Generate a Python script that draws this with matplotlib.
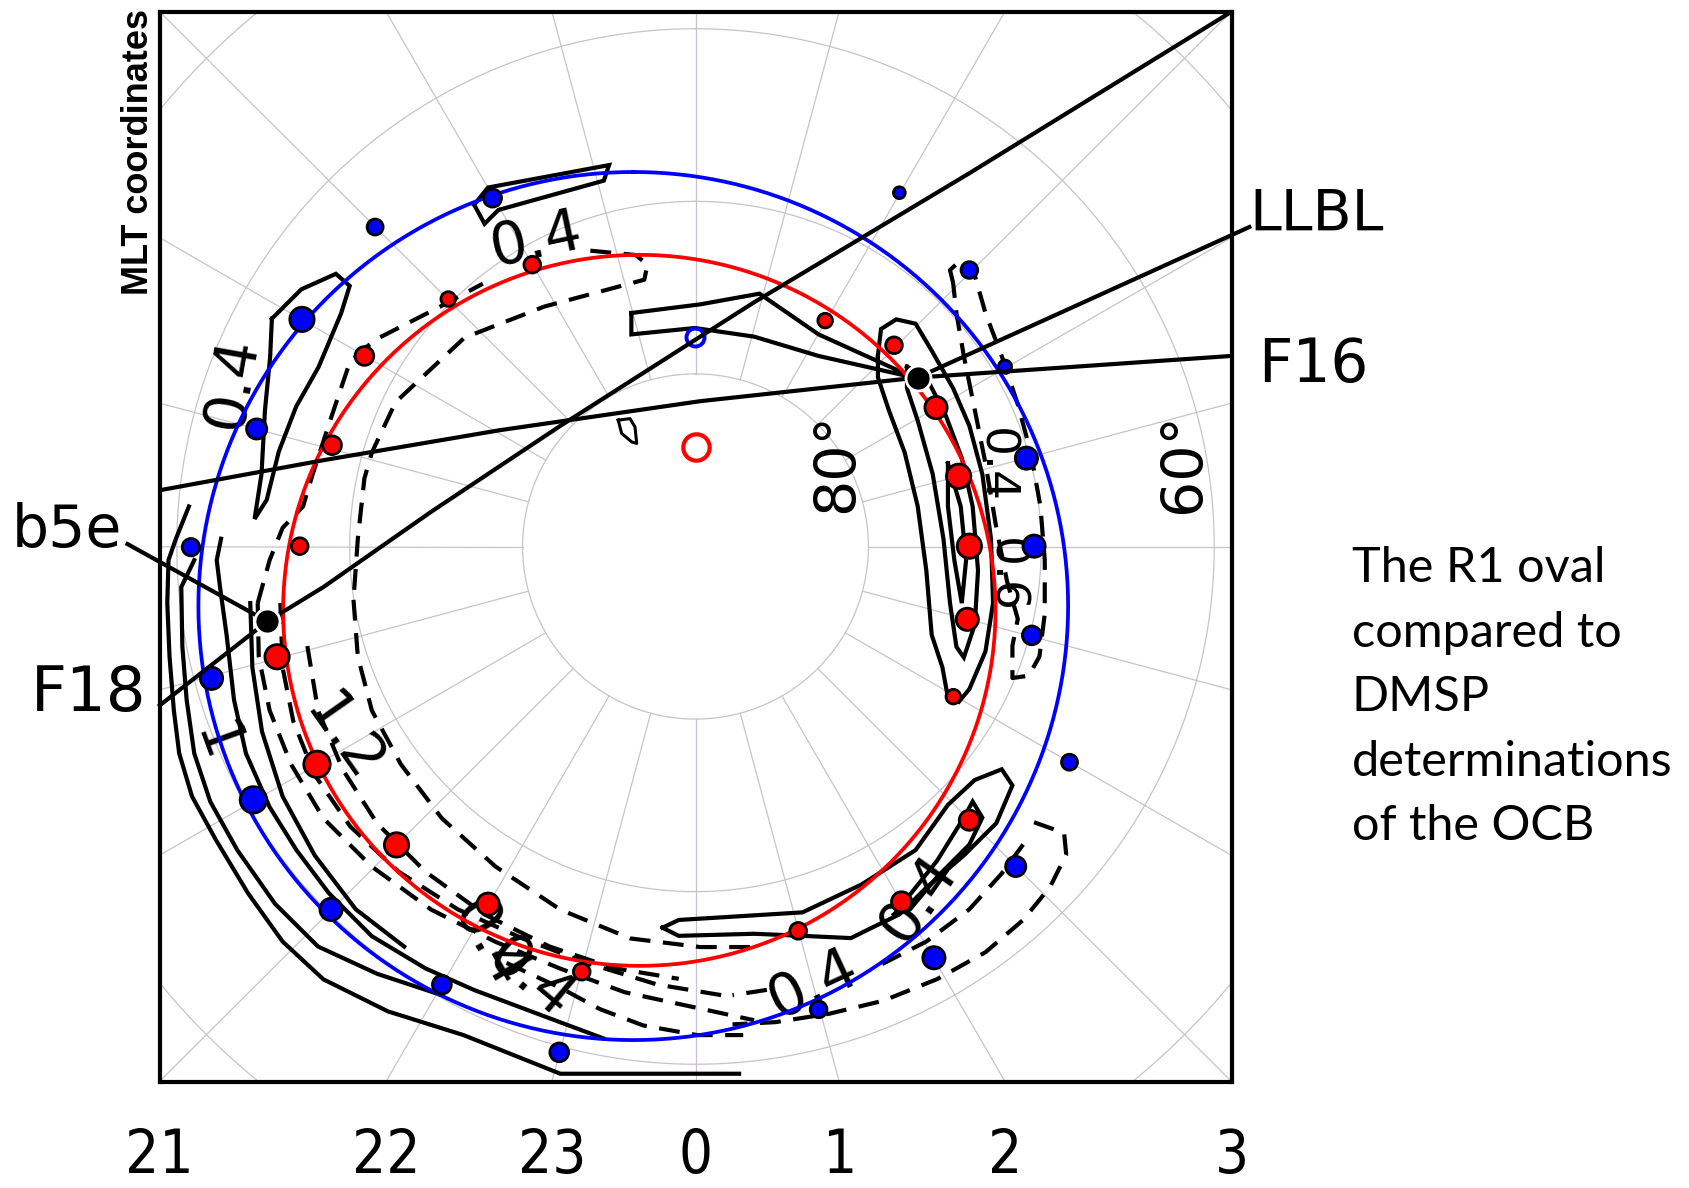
import numpy as np
import matplotlib
matplotlib.use("Agg")
import matplotlib.pyplot as plt
from matplotlib import font_manager, transforms

# ---------------- data (degrees of colatitude from the pole; +x dawn, +y noon) -------------
grid_colat = [10, 20, 30, 40]
grid_mlt = np.arange(24)
mlt_tick_hours = [21, 22, 23, 0, 1, 2, 3]
lat_label_text = ["80°", "60°"]
lat_label_x = [8.24, 28.31]
lat_label_y = [4.89, 4.89]

blue_oval_center = (-3.6, -3.45)
blue_oval_radius = 25.15
red_oval_center = (-3.25, -3.7)
red_oval_radius = 20.6

blue_x = [-11.74, -18.53, -22.76, -25.38, -29.18, -27.99, -25.57, -21.08, -14.67, -7.88,
          7.12, 13.79, 18.52, 21.63, 19.45, 19.58, 19.14, 17.90, 15.84, 11.79]
blue_y = [20.19, 18.51, 13.16, 6.81, -0.04, -7.64, -14.68, -21.03, -25.39, -29.31,
          -26.82, -23.83, -18.54, -12.50, -5.15, 0.02, 5.12, 10.42, 16.02, 20.50]
blue_size = [13, 11.5, 17.5, 14.5, 12.5, 16, 19, 16, 13.5, 13.5,
             12, 16, 14.5, 11.5, 13.5, 16, 16, 9.5, 12, 8.5]

red_x = [-9.44, -14.30, -19.15, -21.02, -22.89, -24.20, -21.89, -17.29, -11.99, -6.58,
         5.94, 11.92, 15.84, 14.91, 15.72, 15.84, 15.22, 13.91, 11.48, 7.50]
red_y = [16.33, 14.34, 11.04, 5.87, 0.02, -6.39, -12.62, -17.29, -20.72, -24.64,
         -22.27, -20.59, -15.86, -8.70, -4.22, 0.02, 4.07, 8.05, 11.66, 13.09]
red_size = [12, 10.5, 13.5, 13.5, 12, 17.5, 19, 17.5, 16, 12,
            12, 14.5, 14.5, 10.5, 16, 17.5, 17.5, 16, 12, 10.5]

open_blue = (-0.04, 12.16)
open_red = (0.01, 5.74)

f16_point = (12.85, 9.79)
f18_point = (-24.76, -4.34)

track_f18 = np.array([(30.97, 30.97), (15.84, 21.63), (3.39, 14.15), (-7.82, 6.99),
                      (-15.29, 2.01), (-21.52, -2.35), (-24.76, -4.34)])
track_f16 = np.array([(-30.98, 3.26), (-21.52, 5.00), (-11.31, 6.74), (0.27, 8.42),
                      (12.85, 9.79), (30.97, 11.04)])
leader_llbl = np.array([(32.03, 18.51), (12.85, 9.79)])
leader_b5e = np.array([(-32.85, 0.14), (-24.76, -4.34)])
leader_f18 = np.array([(-30.98, -9.20), (-24.76, -4.34)])

# solid contours
sol_top = np.array([(-12.8, 19.8), (-12.0, 20.8), (-5.0, 22.1), (-5.3, 21.2), (-11.4, 19.5),
                    (-12.2, 18.7), (-12.8, 19.8)])
sol_dusk_outer = np.array([(-24.5, 13.2), (-22.8, 14.9), (-20.8, 15.8), (-20.0, 15.1), (-20.5, 13.5),
                           (-21.8, 10.4), (-23.1, 8.1), (-24.1, 5.5), (-24.8, 2.7), (-25.5, 1.6),
                           (-25.1, 4.2), (-24.9, 7.9), (-24.6, 11.0), (-24.5, 13.2)])
sol_band1 = np.array([(-29.30, 2.32), (-30.05, 0.45), (-30.48, -0.79), (-30.55, -3.28), (-30.42, -6.38),
                      (-30.17, -9.50), (-29.86, -11.99), (-29.12, -14.48), (-27.75, -16.98),
                      (-25.88, -20.09), (-23.88, -22.89), (-21.52, -25.08), (-17.78, -26.94),
                      (-13.42, -28.31), (-7.82, -30.55), (2.52, -30.55)])
sol_band2 = np.array([(-28.99, -0.79), (-29.74, -2.35), (-29.68, -5.77), (-29.43, -8.89), (-28.99, -11.99),
                      (-28.06, -14.79), (-26.50, -17.59), (-24.32, -20.70), (-21.83, -23.18),
                      (-18.41, -24.76), (-14.67, -26.0)])
sol_band3 = np.array([(-27.44, 0.45), (-27.69, -0.79), (-27.50, -2.35), (-27.12, -5.12), (-26.69, -8.89),
                      (-26.0, -11.99), (-24.63, -15.10), (-23.08, -17.59), (-21.21, -20.08),
                      (-18.72, -22.58), (-15.61, -24.45), (-12.80, -25.70), (-7.82, -27.57),
                      (-5.33, -28.5)])
sol_band4 = np.array([(-25.75, -3.28), (-25.63, -7.0), (-25.07, -10.73), (-23.88, -14.48),
                      (-22.02, -17.90), (-19.65, -21.02), (-16.85, -23.18)])
sol_noon = np.array([(-3.71, 13.53), (0.27, 14.03), (3.70, 14.65), (7.12, 12.29), (12.60, 9.80),
                     (7.12, 11.04), (3.39, 12.16), (-0.04, 12.66), (-3.71, 12.29), (-3.71, 13.53)])
sol_dawn_outer = np.array([(10.55, 11.04), (10.73, 12.60), (11.61, 13.16), (12.73, 12.91), (13.66, 11.35),
                           (14.90, 9.17), (15.84, 6.99), (16.59, 4.19), (17.09, 0.45), (17.21, -3.28),
                           (16.77, -6.08), (15.84, -8.26), (15.22, -9.01), (14.60, -8.76), (14.28, -7.0),
                           (13.66, -5.12), (13.35, -1.39), (12.85, 2.34), (12.10, 5.44), (11.17, 7.93),
                           (10.55, 9.80), (10.55, 11.04)])
sol_dawn_inner = np.array([(12.23, 10.42), (13.35, 9.80), (14.47, 7.6), (15.40, 5.13), (16.03, 2.32),
                           (16.34, -1.39), (16.15, -4.53), (15.52, -6.43), (15.09, -5.81), (14.72, -3.28),
                           (14.34, 0.45), (13.72, 4.19), (12.85, 7.3), (12.23, 9.17), (12.23, 10.42)])
sol_dawn_core = np.array([(14.60, 4.81), (15.34, 2.32), (15.65, -0.79), (15.40, -3.28), (14.97, -0.79),
                          (14.60, 2.32), (14.60, 4.81)])
sol_postmid_outer = np.array([(-1.91, -22.09), (-0.97, -21.64), (6.19, -21.2), (9.61, -19.58), (12.73, -17.59),
                              (14.60, -14.97), (16.15, -13.53), (17.71, -12.91), (18.33, -13.84),
                              (17.40, -16.03), (15.52, -17.90), (13.35, -19.77), (11.79, -21.32),
                              (10.24, -22.07), (8.99, -22.69), (6.19, -22.56), (3.39, -22.44),
                              (-0.97, -22.56), (-1.91, -22.09)])
sol_postmid_inner = np.array([(11.48, -21.33), (13.97, -18.21), (15.52, -15.71), (16.03, -14.78),
                              (16.59, -15.71), (15.84, -17.27), (13.97, -19.15), (12.41, -21.02),
                              (11.48, -21.33)])
sol_speck = np.array([(-4.47, 7.32), (-3.79, 7.41), (-3.50, 6.93), (-3.40, 5.97), (-3.69, 6.06),
                      (-4.27, 6.55), (-4.47, 7.32)])

# dashed contours
dash_dusk_a = np.array([(-25.32, -3.28), (-24.63, -0.79), (-23.88, 1.08), (-22.70, 2.32), (-22.14, 4.19),
                        (-21.15, 7.24), (-20.02, 10.60), (-19.34, 11.35), (-18.28, 12.10),
                        (-14.73, 13.92), (-12.30, 15.23)])
dash_dusk_b = np.array([(-6.08, 17.14), (-3.46, 16.89), (-2.78, 16.33), (-2.96, 15.46), (-8.75, 13.90),
                        (-13.36, 12.10), (-17.35, 8.36), (-18.72, 5.44), (-19.15, 3.94), (-19.53, 0.45),
                        (-19.78, -3.09)])
dash_mid_out = np.array([(-25.32, -3.28), (-25.26, -6.38), (-24.63, -9.50), (-23.39, -12.62), (-21.52, -15.75),
                         (-18.72, -18.55), (-15.29, -21.04), (-11.56, -22.91), (-7.82, -24.46),
                         (-4.09, -25.83), (-0.35, -26.64), (3.39, -27.45)])
dash_mid_mid = np.array([(-24.01, -3.28), (-23.88, -7.02), (-23.26, -10.13), (-22.02, -13.24),
                         (-19.96, -16.23), (-17.16, -18.85), (-13.74, -21.03), (-10.0, -22.71),
                         (-6.26, -24.14), (-2.22, -25.38), (1.52, -26.0)])
dash_mid_inner2 = np.array([(-22.45, -5.77), (-21.83, -9.50), (-20.40, -12.93), (-18.41, -16.05),
                            (-15.61, -18.85), (-12.18, -21.33), (-8.44, -23.18), (-4.71, -24.43),
                            (-0.97, -25.05)])
dash_mid_in = np.array([(-19.78, -3.09), (-19.53, -6.38), (-18.72, -9.50), (-17.04, -12.62),
                        (-14.67, -15.75), (-11.56, -18.55), (-7.82, -21.04), (-3.77, -22.71),
                        (0.27, -23.21), (3.39, -23.21)])
dash_mid_low = np.array([(-10.93, -24.13), (-7.82, -25.57), (-5.52, -26.81), (-3.03, -27.75),
                         (0.09, -28.31), (2.76, -28.31)])
dash_dawn = np.array([(14.90, 15.27), (14.72, 16.02), (15.40, 16.64), (16.15, 15.71), (16.77, 13.53),
                      (17.71, 11.04), (18.64, 8.24), (19.39, 5.44), (19.95, 2.32), (20.20, -0.79),
                      (20.20, -3.9), (19.89, -6.38), (19.27, -7.49), (18.33, -7.62), (18.33, -5.75),
                      (18.64, -4.20), (18.02, -2.03), (17.40, 1.08), (16.77, 4.82), (16.15, 7.93),
                      (15.52, 11.04), (15.09, 13.53), (14.90, 15.27)])
dash_br_outer = np.array([(19.58, -15.98), (21.32, -16.60), (21.44, -17.85), (20.51, -19.72),
                          (18.95, -21.64), (16.77, -23.51), (13.97, -25.07), (10.86, -26.32),
                          (7.75, -27.07), (4.63, -27.56), (2.14, -27.69)])
dash_br_inner = np.array([(18.95, -17.27), (17.71, -18.95), (15.84, -21.02), (13.35, -22.89),
                          (10.55, -24.32)])
dash_br_tail = np.array([(4.13, -25.69), (2.14, -26.0)])

contour_labels = ["0.4", "0.4", "1.2", "1", "0.4", "0.4", "0.4", "0.4", "0.4", "0.6"]
contour_label_x = [-9.24, -26.81, -20.4, -27.75, -12.0, -9.6, 6.81, 12.9, 17.3, 17.9]
contour_label_y = [17.75, 9.48, -11.1, -11.4, -23.0, -25.0, -25.39, -20.40, 4.7, -1.7]
contour_label_rot = [12, 80, -55, -70, -60, -40, 25, 55, -90, -90]
contour_label_size = [42, 42, 42, 42, 42, 42, 42, 42, 34, 34]

side_text_lines = ["The R1 oval", "compared to", "DMSP", "determinations", "of the OCB"]

# ---------------- fonts ----------------
def pick(names):
    for n in names:
        try:
            font_manager.findfont(font_manager.FontProperties(family=n), fallback_to_default=False)
            return n
        except Exception:
            pass
    return "DejaVu Sans"

narrow = pick(["Liberation Sans Narrow", "DejaVu Sans"])
arial = pick(["Liberation Sans", "DejaVu Sans"])
calibri = pick(["Lato", "Open Sans", "DejaVu Sans"])

# ---------------- figure ----------------
W, H = 1689, 1188
fig = plt.figure(figsize=(W / 100, H / 100), dpi=100)
ax = fig.add_axes([159.5 / W, 1 - 1081.5 / H, 1072 / W, 1070 / H])
ax.set_xlim(-31, 31)
ax.set_ylim(-31, 31)
ax.set_xticks([])
ax.set_yticks([])
for s in ax.spines.values():
    s.set_linewidth(3.0)
    s.set_zorder(20)

grid_color = "#c9c2cc"
t = np.linspace(0, 2 * np.pi, 721)
for c in grid_colat:
    ax.plot(c * np.sin(t), c * np.cos(t), color=grid_color, lw=0.9, zorder=1)
for h in grid_mlt:
    phi = h * np.pi / 12
    r = np.array([grid_colat[0], 60])
    ax.plot(r * np.sin(phi), -r * np.cos(phi), color=grid_color, lw=0.9, zorder=1)

# contours
clw = 3.0
for arr in [sol_top, sol_dusk_outer, sol_band1, sol_band2, sol_band3, sol_band4, sol_noon,
            sol_dawn_outer, sol_dawn_inner, sol_dawn_core, sol_postmid_outer, sol_postmid_inner]:
    ax.plot(arr[:, 0], arr[:, 1], color="black", lw=clw, zorder=3, solid_joinstyle="miter")
ax.plot(sol_speck[:, 0], sol_speck[:, 1], color="black", lw=2.2, zorder=3)
for arr in [dash_dusk_a, dash_dusk_b, dash_mid_out, dash_mid_mid, dash_mid_inner2, dash_mid_in,
            dash_mid_low, dash_dawn, dash_br_outer, dash_br_inner, dash_br_tail]:
    ax.plot(arr[:, 0], arr[:, 1], color="black", lw=clw, ls=(0, (5, 3)), zorder=3)
for txt, x, y, rot, fs in zip(contour_labels, contour_label_x, contour_label_y,
                              contour_label_rot, contour_label_size):
    ax.text(x, y, txt, fontsize=fs, rotation=rot, ha="center", va="center",
            family="DejaVu Sans", zorder=3, rotation_mode="anchor")

# ovals
ax.plot(blue_oval_center[0] + blue_oval_radius * np.sin(t),
        blue_oval_center[1] + blue_oval_radius * np.cos(t), color="#0000ff", lw=2.7, zorder=4)
ax.plot(red_oval_center[0] + red_oval_radius * np.sin(t),
        red_oval_center[1] + red_oval_radius * np.cos(t), color="#ff0000", lw=2.7, zorder=4)

# dots
ax.scatter(blue_x, blue_y, s=np.array(blue_size) ** 2, c="#0000ff", edgecolors="black",
           linewidths=2.0, zorder=5)
ax.scatter(red_x, red_y, s=np.array(red_size) ** 2, c="#ff0000", edgecolors="black",
           linewidths=2.0, zorder=5)
ax.plot(*open_blue, marker="o", ms=13, mfc="none", mec="#0000ff", mew=2.8, zorder=5)
ax.plot(*open_red, marker="o", ms=19, mfc="none", mec="#ff0000", mew=3.0, zorder=5)

# tracks and leaders
for arr in [track_f18, track_f16]:
    ax.plot(arr[:, 0], arr[:, 1], color="black", lw=3.0, zorder=6)
for arr in [leader_llbl, leader_b5e, leader_f18]:
    ax.plot(arr[:, 0], arr[:, 1], color="black", lw=3.0, zorder=6, clip_on=False)
for p in [f16_point, f18_point]:
    ax.plot(*p, marker="o", ms=18, mfc="black", mec="white", mew=2.0, zorder=7, clip_on=False)

# latitude labels
for txt, x, y in zip(lat_label_text, lat_label_x, lat_label_y):
    ax.text(x, y, txt, fontsize=41, rotation=90, ha="center", va="center",
            family="DejaVu Sans", zorder=8)

# MLT labels below the box
bt = transforms.blended_transform_factory(ax.transData, fig.transFigure)
for h in mlt_tick_hours:
    ang = ((h + 12) % 24 - 12) * np.pi / 12
    ax.text(31 * np.tan(ang), 1 - 1186 / H, str(h), transform=bt, ha="center", va="bottom",
            fontsize=43, family=narrow, fontstretch="condensed", clip_on=False)

fig.text(138.5 / W, 1 - 152 / H, "MLT coordinates", rotation=90, ha="center", va="center",
         fontsize=26, fontweight="bold", family=arial)

fig.text(1249 / W, 1 - 231 / H, "LLBL", fontsize=41, family="DejaVu Sans", va="baseline")
fig.text(1258 / W, 1 - 382 / H, "F16", fontsize=43, family="DejaVu Sans", va="baseline")
fig.text(12 / W, 1 - 547 / H, "b5e", fontsize=42, family="DejaVu Sans", va="baseline")
fig.text(31 / W, 1 - 711 / H, "F18", fontsize=45, family="DejaVu Sans", va="baseline")

for i, line in enumerate(side_text_lines):
    fig.text(1352 / W, 1 - (582 + 64.6 * i) / H, line, fontsize=35, family=calibri,
             va="baseline", ha="left")

fig.savefig("out.png", dpi=100)
